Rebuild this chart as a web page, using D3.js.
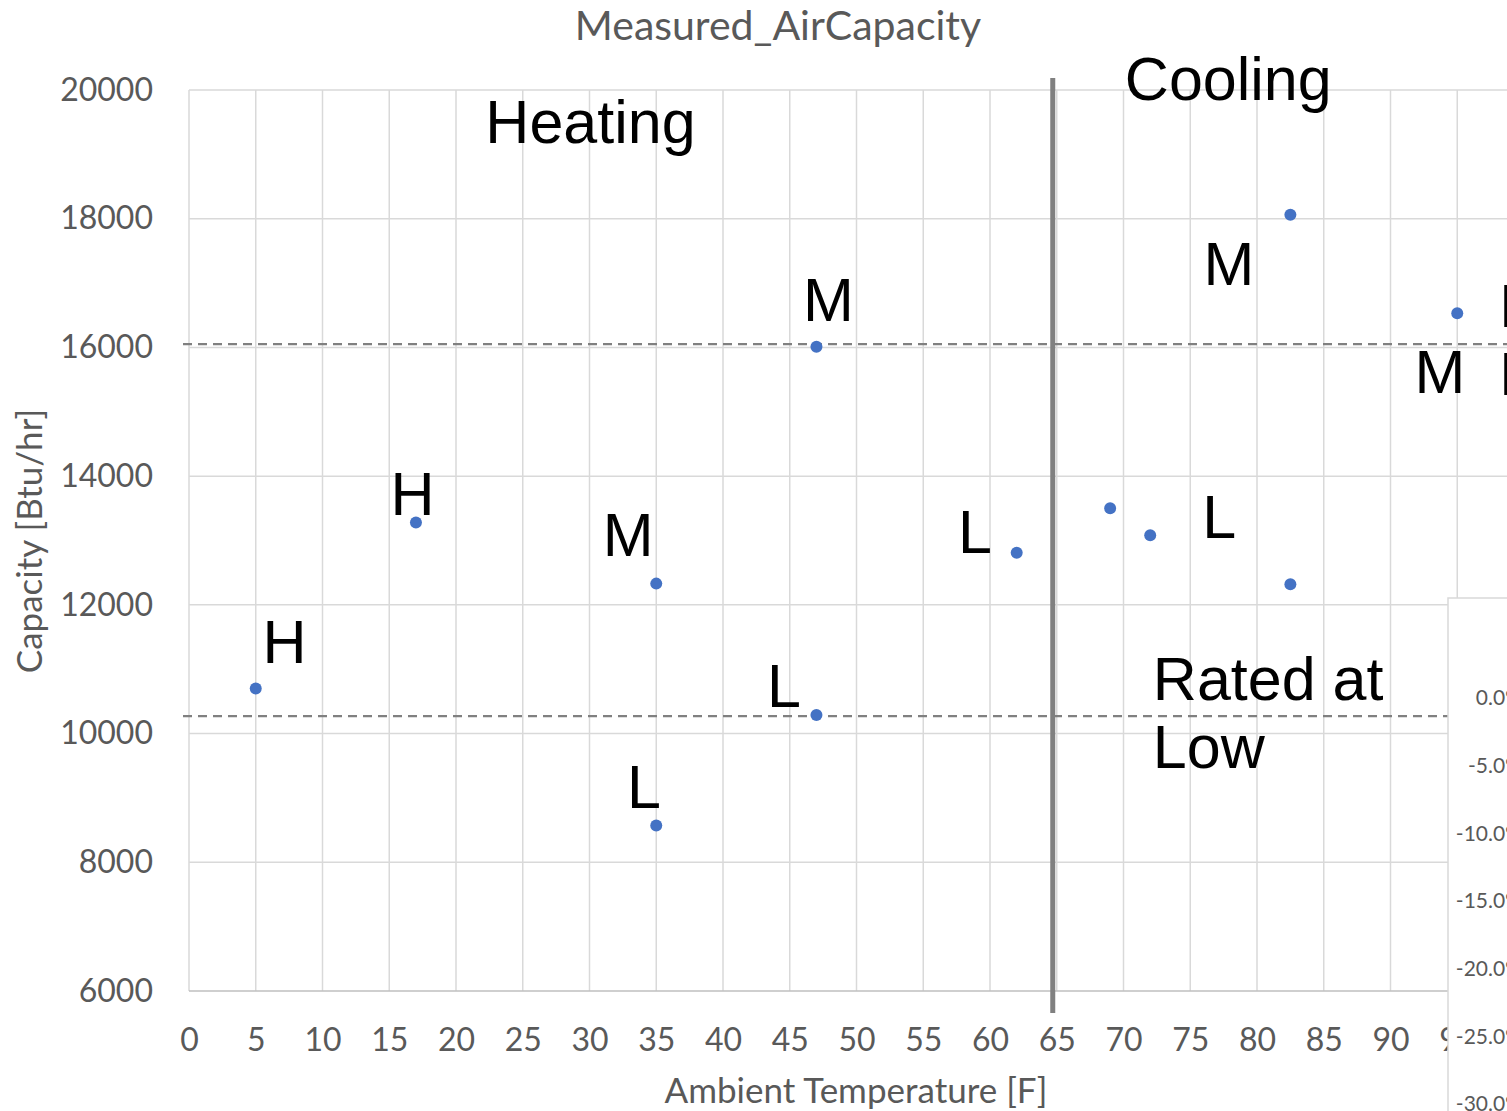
<!DOCTYPE html>
<html>
<head>
<meta charset="utf-8">
<script src="https://cdn.jsdelivr.net/npm/d3@7"></script>
<style>
  body { margin: 0; background: #fff; overflow: hidden; }
</style>
</head>
<body>
<div id="chart"></div>
<script>
// data
var temps = [5, 17, 35, 35, 47, 47, 62, 69, 72, 82.5, 82.5, 95];
var capacity = [10700, 13280, 12330, 8570, 16010, 10290, 12810, 13500, 13080, 18060, 12320, 16530];
var xTicks = d3.range(0, 101, 5);
var yTicks = [6000, 8000, 10000, 12000, 14000, 16000, 18000, 20000];
var ratedHigh = 16050;
var ratedLow = 10270;
var splitTemp = 65;

// annotation text (left x in F, baseline in Btu/hr)
var noteText = ["Heating", "Cooling", "H", "H", "M", "M", "L", "L", "L", "L", "M", "M", "Rated at", "Low", "H", "H"];
var noteX = [22.2, 70.1, 5.5, 15.1, 31.0, 46.0, 43.3, 32.8, 57.6, 75.9, 76.0, 91.8, 72.2, 72.2, 98.15, 98.15];
var noteY = [19180, 19850, 11100, 13400, 12760, 16410, 10410, 8840, 12800, 13040, 16970, 15290, 10520, 9460, 16320, 15260];

// the second chart peeking in at the lower right
var insetTicks = [0, -5, -10, -15, -20, -25, -30];

var W = 1507, H = 1111;
var margin = { top: 90, left: 189, bottom: 120 };

var svg = d3.select("#chart").append("svg")
  .attr("width", W).attr("height", H);

var x = d3.scaleLinear().domain([0, 100]).range([margin.left, margin.left + 1335]);
var y = d3.scaleLinear().domain([6000, 20000]).range([991, margin.top]);

var axisFont = "Lato, 'Open Sans', sans-serif";
var grey = "#595959";

// grid
svg.append("g").selectAll("line.v")
  .data(xTicks).enter().append("line")
  .attr("x1", d => x(d)).attr("x2", d => x(d))
  .attr("y1", y(20000)).attr("y2", y(6000))
  .attr("stroke", "#d9d9d9").attr("stroke-width", 1.5);

svg.append("g").selectAll("line.h")
  .data(yTicks).enter().append("line")
  .attr("x1", x(0)).attr("x2", x(100))
  .attr("y1", d => y(d)).attr("y2", d => y(d))
  .attr("stroke", d => d == 6000 ? "#bfbfbf" : "#d9d9d9")
  .attr("stroke-width", 1.5);

// axes (labels only, Excel style)
var xAxis = svg.append("g")
  .attr("transform", "translate(0," + y(6000) + ")")
  .call(d3.axisBottom(x).tickValues(xTicks).tickSize(0).tickPadding(37));
xAxis.select(".domain").remove();
xAxis.selectAll("text")
  .attr("font-family", axisFont).attr("font-size", 32).attr("fill", grey);

var yAxis = svg.append("g")
  .attr("transform", "translate(" + (margin.left - 36) + ",0)")
  .call(d3.axisLeft(y).tickValues(yTicks).tickFormat(d3.format("d")).tickSize(0).tickPadding(0));
yAxis.select(".domain").remove();
yAxis.selectAll("text")
  .attr("font-family", axisFont).attr("font-size", 32).attr("fill", grey);

// rated lines
svg.append("g").selectAll("line.rated")
  .data([ratedHigh, ratedLow]).enter().append("line")
  .attr("x1", x(0) - 6).attr("x2", x(100))
  .attr("y1", d => y(d)).attr("y2", d => y(d))
  .attr("stroke", "#808080").attr("stroke-width", 2.2)
  .attr("stroke-dasharray", "9,6");

// heating / cooling split
svg.append("line")
  .attr("x1", x(splitTemp) - 4).attr("x2", x(splitTemp) - 4)
  .attr("y1", 78).attr("y2", 1013)
  .attr("stroke", "#808080").attr("stroke-width", 5);

// points
svg.append("g").selectAll("circle")
  .data(temps).enter().append("circle")
  .attr("cx", d => x(d))
  .attr("cy", (d, i) => y(capacity[i]))
  .attr("r", 6)
  .attr("fill", "#4472c4");

// annotations
svg.append("g").selectAll("text")
  .data(noteText).enter().append("text")
  .attr("x", (d, i) => x(noteX[i]))
  .attr("y", (d, i) => y(noteY[i]))
  .attr("font-family", "'Liberation Sans', Arial, sans-serif")
  .attr("font-size", 61)
  .attr("fill", "#000")
  .text(d => d);

// titles
svg.append("text")
  .attr("x", 778).attr("y", 40)
  .attr("text-anchor", "middle")
  .attr("font-family", axisFont).attr("font-size", 41).attr("fill", grey)
  .text("Measured_AirCapacity");

svg.append("text")
  .attr("x", 856).attr("y", 1103)
  .attr("text-anchor", "middle")
  .attr("font-family", axisFont).attr("font-size", 35).attr("fill", grey)
  .text("Ambient Temperature [F]");

svg.append("text")
  .attr("transform", "translate(42,541) rotate(-90)")
  .attr("text-anchor", "middle")
  .attr("font-family", axisFont).attr("font-size", 35).attr("fill", grey)
  .text("Capacity [Btu/hr]");

// inset panel of the neighbouring chart
var inset = svg.append("g");
inset.append("rect")
  .attr("x", 1448).attr("y", 598)
  .attr("width", 200).attr("height", 600)
  .attr("fill", "#fff").attr("stroke", "#d9d9d9").attr("stroke-width", 1.5);

var yi = d3.scaleLinear().domain([0, -30]).range([698, 1104]);
inset.selectAll("text")
  .data(insetTicks).enter().append("text")
  .attr("x", 1522)
  .attr("y", d => yi(d))
  .attr("dy", "0.35em")
  .attr("text-anchor", "end")
  .attr("font-family", axisFont).attr("font-size", 21).attr("fill", grey)
  .text(d => d.toFixed(1) + "%");
</script>
</body>
</html>
